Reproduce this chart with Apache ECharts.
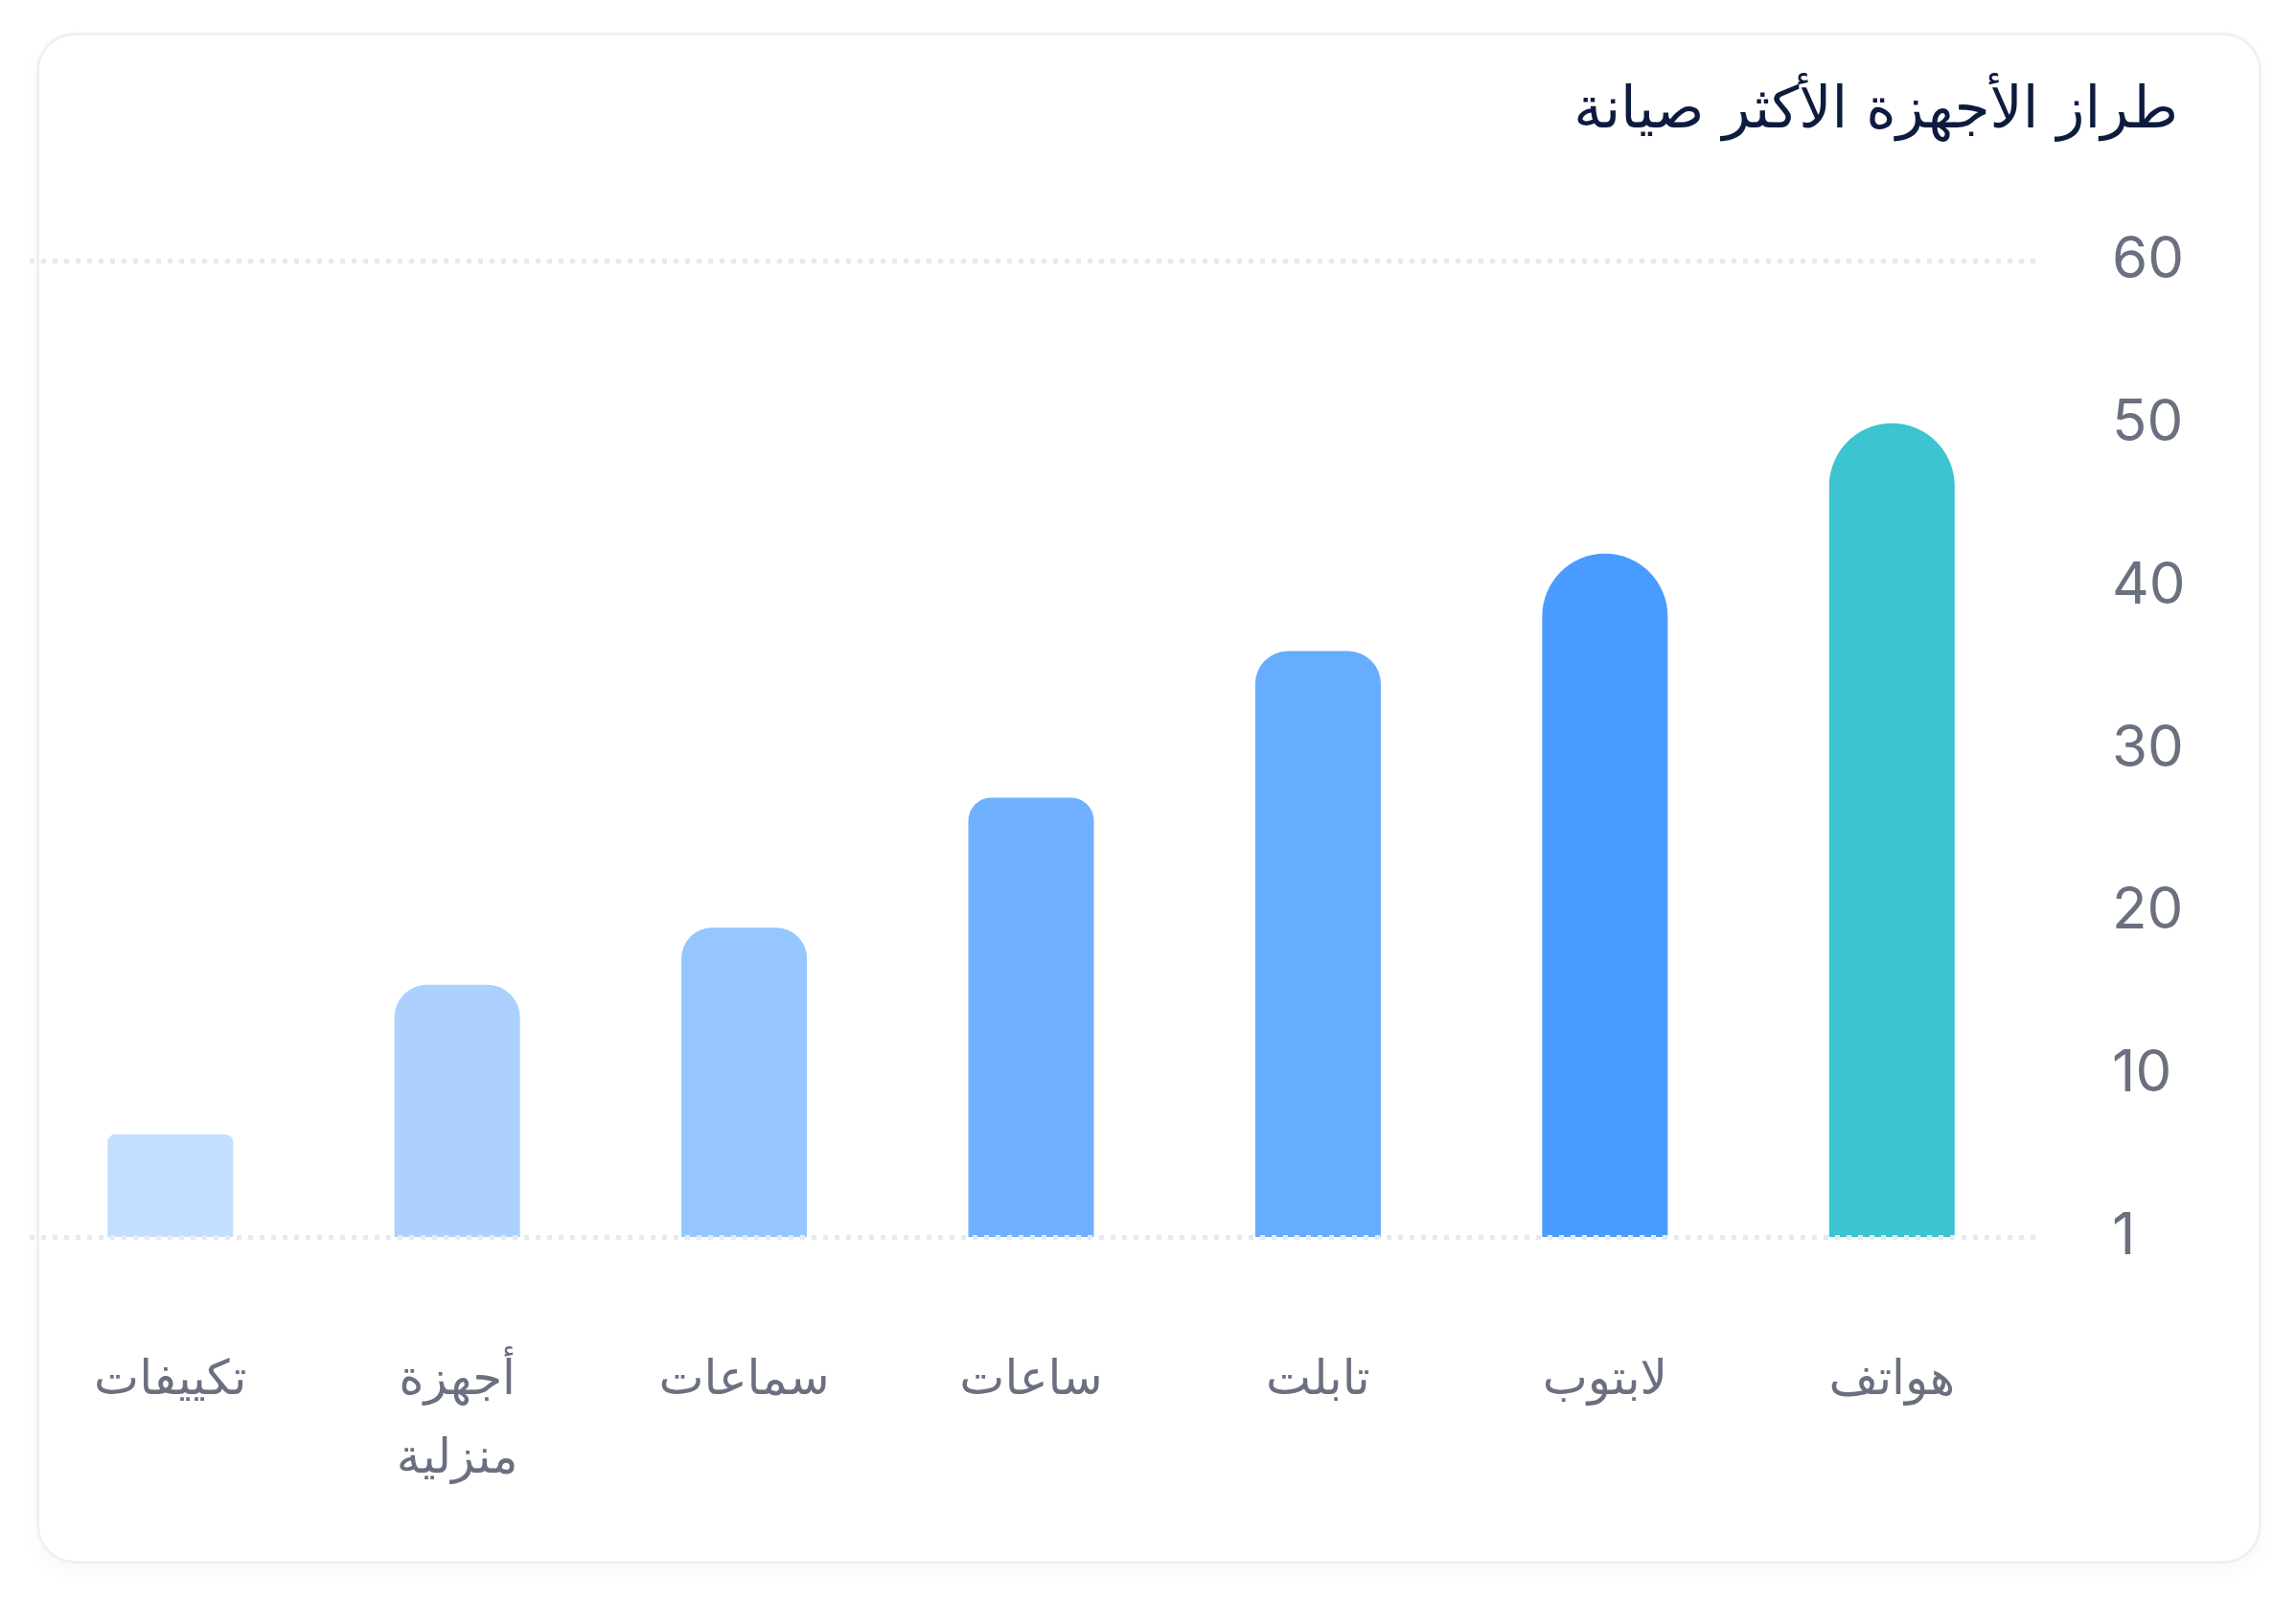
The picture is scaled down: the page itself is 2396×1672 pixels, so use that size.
<!DOCTYPE html>
<html>
<head>
<meta charset="utf-8">
<script src="https://cdn.jsdelivr.net/npm/echarts@6/dist/echarts.min.js"></script>
<style>
html,body{margin:0;padding:0;background:#fff;}
#card{position:absolute;left:38px;top:34px;width:2316px;height:1592px;border:3px solid #eef0f3;border-radius:40px;box-shadow:0 8px 20px rgba(0,0,0,0.03);}
#main{position:absolute;left:0;top:0;width:2396px;height:1672px;}
</style>
</head>
<body>
<div id="card"></div>
<div id="main"></div>
<script>
// devices, right to left
var categories = ['هواتف', 'لابتوب', 'تابلت', 'ساعات', 'سماعات', 'أجهزة\nمنزلية', 'تكييفات'];
var values = [50, 42, 36, 27, 19, 15.5, 6.3];
var barColors = ['#3cc4d0', '#4a9bff', '#66acff', '#70b1ff', '#95c6ff', '#acd1ff', '#c4deff'];
var capRadius = [66, 66, 34, 24, 32, 34, 8];
var yTicks = ['1', '10', '20', '30', '40', '50', '60'];

var chart = echarts.init(document.getElementById('main'));
chart.setOption({
    title: {
        text: 'طراز الأجهزة الأكثر صيانة',
        right: 118,
        top: 82,
        textStyle: {color: '#0d1b3e', fontSize: 60, fontWeight: 'normal', fontFamily: 'DejaVu Sans'}
    },
    grid: {left: 28, right: 272, top: 272, bottom: 381},
    xAxis: {
        type: 'category',
        inverse: true,
        data: categories,
        axisLine: {show: false},
        axisTick: {show: false},
        axisLabel: {
            margin: 110,
            color: '#6b7080',
            fontSize: 50,
            lineHeight: 82,
            fontFamily: 'DejaVu Sans'
        }
    },
    yAxis: {
        type: 'value',
        position: 'right',
        min: 0,
        max: 60,
        interval: 10,
        splitLine: {show: false},
        axisLine: {show: false},
        axisLabel: {
            margin: 80,
            align: 'left',
            color: '#6b7080',
            fontSize: 60,
            fontFamily: 'Inter',
            formatter: function (v) { return yTicks[v / 10]; }
        }
    },
    series: [{
        type: 'bar',
        barWidth: 131,
        data: values.map(function (v, i) {
            return {value: v, itemStyle: {color: barColors[i], borderRadius: [capRadius[i], capRadius[i], 0, 0]}};
        }),
        markLine: {
            silent: true,
            symbol: 'none',
            label: {show: false},
            lineStyle: {color: '#e6e9ee', type: [5, 7], width: 5},
            data: [{yAxis: 60}, {yAxis: 0}]
        }
    }]
});
</script>
</body>
</html>
